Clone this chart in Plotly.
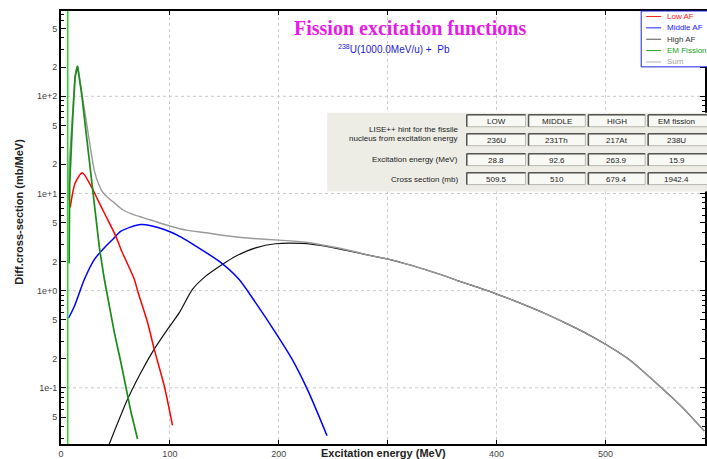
import plotly.graph_objects as go

# ---- Differential fission cross-sections, 238U(1000 MeV/u) + Pb ----
# Excitation energy (MeV) and dsigma/dE (mb/MeV) for each component
low_e = [8.5, 13.0, 19.5, 27.6, 33.7, 39.8, 50.5, 55.1, 67.3, 70.3, 79.5, 85.6, 94.8, 102.4]
low_xs = [7.2, 12.8, 16.3, 11.9, 8.65, 6.3, 3.6, 2.65, 1.31, 1.0, 0.47, 0.25, 0.105, 0.041]

mid_e = [6.9, 12.4, 21.5, 30.7, 39.8, 47.4, 55.1, 73.4, 94.8, 111.5, 123.8, 145.1,
         163.4, 178.7, 197, 212.2, 227.5, 244.3]
mid_xs = [0.52, 0.695, 1.31, 2.10, 2.76, 3.36, 4.09, 4.80, 4.26, 3.50, 2.87, 2.01,
          1.31, 0.753, 0.37, 0.197, 0.0897, 0.0321]

high_e = [43.5, 61.2, 73.4, 85.6, 97.8, 108.5, 120.7, 132.9, 148.1, 160.4, 178.7, 197,
          221.4, 242.8, 261, 273, 282.4, 301.4, 318, 334.3, 350, 364.8, 383, 400.8,
          416, 431.9, 447, 462.5, 481, 500, 512, 523.5, 537, 551, 562, 572.4, 582, 590.7]
high_xs = [0.025, 0.0766, 0.144, 0.25, 0.40, 0.59, 1.03, 1.41, 1.86, 2.26, 2.76, 3.04,
           3.06, 2.87, 2.61, 2.45, 2.32, 2.10, 1.87, 1.65, 1.45, 1.26, 1.08, 0.916,
           0.79, 0.669, 0.565, 0.469, 0.37, 0.281, 0.232, 0.189, 0.14, 0.101, 0.078, 0.060, 0.046, 0.036]

em_e = [7.4, 8.0, 10.8, 13.0, 15.2, 19.0, 23.1, 27.6, 32.2, 35.2, 39.8, 49, 55.1, 59.7, 64.3, 70.3]
em_xs = [1.9, 12.8, 62, 159, 205, 105, 41.9, 15, 5.8, 2.8, 1.31, 0.37, 0.18, 0.097, 0.056, 0.0297]

sum_e = [7.0, 7.6, 10.8, 13.0, 15.0, 19.0, 23.1, 26.5, 30.7, 34.5, 38.3, 44, 49, 56.6,
         64.3, 72, 81, 90, 102.4, 115, 133, 148, 163.4, 180, 200, 224.5, 240, 258,
         273, 282.4, 301.4, 318, 334.3, 350, 364.8, 383, 400.8, 416, 431.9, 447,
         462.5, 481, 500, 512, 523.5, 537, 551, 562, 572.4, 582, 590.7]
sum_xs = [8.5, 20, 70, 165, 207, 110, 57, 32, 17, 12.5, 10.3, 8.9, 8.0, 6.8,
          6.2, 5.8, 5.4, 5.0, 4.55, 4.2, 3.94, 3.72, 3.55, 3.42, 3.31, 3.15, 2.95, 2.70,
          2.47, 2.32, 2.10, 1.87, 1.65, 1.45, 1.26, 1.08, 0.916, 0.79, 0.669, 0.565,
          0.469, 0.37, 0.281, 0.232, 0.189, 0.14, 0.101, 0.078, 0.060, 0.046, 0.036]

fission_barrier = 6.2  # MeV

# ---- summary table ----
table_cols = ["LOW", "MIDDLE", "HIGH", "EM fission"]
table_nuclei = ["236U", "231Th", "217At", "238U"]
table_energy = ["28.8", "92.6", "263.9", "15.9"]
table_xsec = ["509.5", "510", "679.4", "1942.4"]

# ---- axis ticks ----
x_ticks = [0, 100, 200, 300, 400, 500]
x_ticktext = ["0", "100", "200", "", "400", "500"]
y_ticks = [0.05, 0.1, 0.2, 0.5, 1, 2, 5, 10, 20, 50, 100, 200, 500]
y_ticktext = ["5", "1e-1", "2", "5", "1e+0", "2", "5", "1e+1", "2", "5", "1e+2", "2", "5"]
y_decades = [0.1, 1, 10, 100]
y_minor = [k * 10.0 ** n for n in range(-2, 3) for k in range(1, 10)]

# ---- page geometry (pixels) ----
PW, PH = 707, 459
ML, MR, MT, MB = 61, 0, 11, 14
AW, AH = PW - ML - MR, PH - MT - MB


def px(xpix):
    return (xpix - ML) / AW


def py(ypix):
    return (PH - MB - ypix) / AH


fig = go.Figure()

series = [
    ("High AF", high_e, high_xs, "#111111", 1.2, "spline"),
    ("Sum", sum_e, sum_xs, "#9A9A9A", 1.4, "spline"),
    ("Middle AF", mid_e, mid_xs, "#0000FF", 1.5, "spline"),
    ("Low AF", low_e, low_xs, "#FF0000", 1.5, "spline"),
    ("EM Fission", em_e, em_xs, "#1A8C1A", 1.7, "linear"),
]
for name, xs, ys, color, width, shape in series:
    line = dict(color=color, width=width, shape=shape)
    if shape == "spline":
        line["smoothing"] = 0.7
    fig.add_trace(go.Scatter(x=xs, y=ys, mode="lines", name=name,
                             line=line, showlegend=False))

shapes = []
# decade gridlines
for v in y_decades:
    shapes.append(dict(type="line", xref="paper", yref="y", x0=0, x1=1, y0=v, y1=v,
                       line=dict(color="#C8C8C8", width=1, dash="3px,3px"), layer="below"))
# fission barrier marker
shapes.append(dict(type="line", xref="x", yref="paper", x0=fission_barrier, x1=fission_barrier,
                   y0=0, y1=1, line=dict(color="#22DD22", width=1.5), layer="above"))

annotations = []

# title block
annotations.append(dict(x=px(411), y=py(28), xref="paper", yref="paper", showarrow=False,
                        text="<b>Fission excitation functions</b>",
                        font=dict(family="Liberation Serif", size=20, color="#E81AE8"),
                        xanchor="center", yanchor="middle"))
annotations.append(dict(x=px(395), y=py(49), xref="paper", yref="paper", showarrow=False,
                        text="<sup>238</sup>U(1000.0MeV/u) +&nbsp;&nbsp;Pb",
                        font=dict(family="Liberation Sans", size=10, color="#1A1AD8"),
                        xanchor="center", yanchor="middle"))

# axis titles
annotations.append(dict(x=px(18), y=py(212), xref="paper", yref="paper", showarrow=False,
                        text="<b>Diff.cross-section (mb/MeV)</b>", textangle=-90,
                        font=dict(family="Liberation Sans", size=11, color="#222222"),
                        xanchor="center", yanchor="middle"))
annotations.append(dict(x=px(385), y=py(454), xref="paper", yref="paper", showarrow=False,
                        text="<b>Excitation energy (MeV)</b>",
                        font=dict(family="Liberation Sans", size=11, color="#222222"),
                        xanchor="center", yanchor="middle"))

# legend box
shapes.append(dict(type="rect", xref="paper", yref="paper", x0=px(643), x1=px(712),
                   y0=py(67), y1=py(11), fillcolor="white",
                   line=dict(color="#2020E0", width=1), layer="above"))
legend_rows = [
    ("Low AF", "#FF2020", "#FF2020"),
    ("Middle AF", "#2020FF", "#2020FF"),
    ("High AF", "#555555", "#333333"),
    ("EM Fission", "#20A020", "#20A020"),
    ("Sum", "#B0B0B0", "#A0A0A0"),
]
for i, (label, lc, tc) in enumerate(legend_rows):
    yy = 16.5 + i * 11.4
    shapes.append(dict(type="line", xref="paper", yref="paper", x0=px(648), x1=px(663),
                       y0=py(yy), y1=py(yy), line=dict(color=lc, width=1), layer="above"))
    annotations.append(dict(x=px(667), y=py(yy), xref="paper", yref="paper", showarrow=False,
                            text=label, font=dict(family="Liberation Sans", size=8, color=tc),
                            xanchor="left", yanchor="middle"))

# summary table
shapes.append(dict(type="rect", xref="paper", yref="paper", x0=px(328), x1=px(712),
                   y0=py(192), y1=py(113), fillcolor="#EDEDE6",
                   line=dict(width=0), layer="above"))
col_x = [(468, 527), (530, 587), (590, 647), (650, 710)]
row_y = [(115, 127), (134, 146), (154, 166), (173, 185)]
rows = [table_cols, table_nuclei, table_energy, table_xsec]
for r, (y0, y1) in enumerate(row_y):
    for c, (x0, x1) in enumerate(col_x):
        shapes.append(dict(type="rect", xref="paper", yref="paper", x0=px(x0), x1=px(x1),
                           y0=py(y1), y1=py(y0), fillcolor="#F8F8F4",
                           line=dict(color="#B8B8B0", width=1), layer="above"))
        shapes.append(dict(type="line", xref="paper", yref="paper", x0=px(x0), x1=px(x0),
                           y0=py(y1), y1=py(y0), line=dict(color="#555555", width=1.5),
                           layer="above"))
        shapes.append(dict(type="line", xref="paper", yref="paper", x0=px(x0), x1=px(x1),
                           y0=py(y0), y1=py(y0), line=dict(color="#555555", width=1.5),
                           layer="above"))
        annotations.append(dict(x=px((x0 + min(x1, 707)) / 2), y=py((y0 + y1) / 2 + 0.5),
                                xref="paper", yref="paper", showarrow=False,
                                text=rows[r][c],
                                font=dict(family="Liberation Sans", size=8, color="#222222"),
                                xanchor="center", yanchor="middle"))

row_labels = [
    ("LISE++ hint for the fissile", 130),
    ("nucleus from excitation energy", 138.5),
    ("Excitation energy (MeV)", 160),
    ("Cross section (mb)", 179.5),
]
for text, yy in row_labels:
    annotations.append(dict(x=px(461), y=py(yy), xref="paper", yref="paper", showarrow=False,
                            text=text, font=dict(family="Liberation Sans", size=8, color="#222222"),
                            xanchor="right", yanchor="middle"))

fig.update_layout(
    width=PW, height=PH,
    margin=dict(l=ML, r=MR, t=MT, b=MB, pad=0),
    paper_bgcolor="white", plot_bgcolor="white",
    showlegend=False,
    shapes=shapes, annotations=annotations,
    xaxis=dict(range=[0, 591.4], tickmode="array", tickvals=x_ticks, ticktext=x_ticktext,
               ticks="inside", ticklen=4, tickcolor="black",
               showline=True, linecolor="black", linewidth=2, mirror="ticks",
               showgrid=True, gridcolor="#CCCCCC", gridwidth=1, griddash="3px,3px",
               zeroline=False, tickfont=dict(family="Liberation Sans", size=9, color="#444444")),
    yaxis=dict(type="log", range=[-1.578, 2.878], tickmode="array",
               tickvals=y_ticks, ticktext=y_ticktext,
               ticks="inside", ticklen=5, tickcolor="black",
               minor=dict(tickmode="array", tickvals=y_minor, ticks="inside", ticklen=3,
                          tickcolor="black", showgrid=False),
               showline=True, linecolor="black", linewidth=2, mirror="ticks",
               showgrid=False, zeroline=False,
               tickfont=dict(family="Liberation Sans", size=9, color="#444444")),
)

fig.write_html("out.html")
